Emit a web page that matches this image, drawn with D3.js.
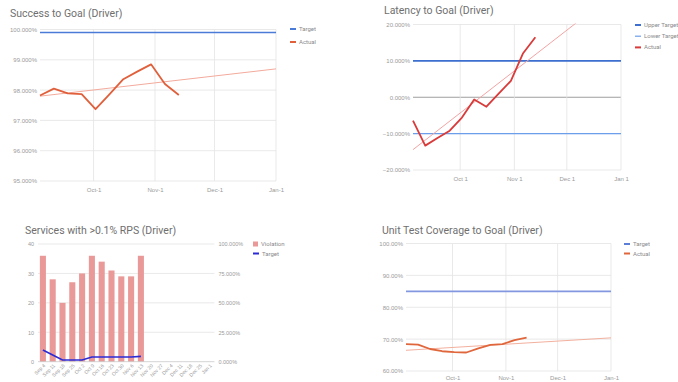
<!DOCTYPE html>
<html><head><meta charset="utf-8">
<script src="https://cdn.jsdelivr.net/npm/d3@7"></script>
<style>
body{margin:0;background:#fff;}
svg{display:block;font-family:Roboto,"Liberation Sans",Arial,sans-serif;}
.title{fill:#6f6f6f;}
.tick-label{fill:#9a9a9a;}
.legend{fill:#8a8a8a;}
</style></head>
<body><svg id="c" width="678" height="382"></svg>
<script>
// ---------- data ----------
const weekDates = ["2017-09-04","2017-09-11","2017-09-18","2017-09-25","2017-10-02","2017-10-09","2017-10-16","2017-10-23","2017-10-30","2017-11-06","2017-11-13"];
const timeDomain = ["2017-09-04","2018-01-01"];
const monthTicks = ["2017-10-01","2017-11-01","2017-12-01","2018-01-01"];

const successActual = [97.82, 98.05, 97.89, 97.87, 97.37, 97.86, 98.36, 98.61, 98.85, 98.2, 97.84];
const successTarget = 99.9;
const successTrend = [97.8, 98.7];
const successTicks = [95, 96, 97, 98, 99, 100];

const latencyActual = [-6.4, -13.3, -11.2, -9.2, -5.6, -0.6, -2.6, 1.0, 4.5, 12.1, 16.5];
const latencyUpper = 10;
const latencyLower = -10;
const latencyTrend = [-14.4, 30];
const latencyTicks = [-20, -10, 0, 10, 20];

const rpsCategories = ["Sep 4","Sep 11","Sep 18","Sep 25","Oct 2","Oct 9","Oct 16","Oct 23","Oct 30","Nov 6","Nov 13","Nov 20","Nov 27","Dec 4","Dec 11","Dec 18","Dec 25","Jan 1"];
const rpsViolation = [36, 28, 20, 27, 30, 36, 34, 31, 29, 29, 36];
const rpsTarget = [10, 5.7, 1.5, 1.5, 1.5, 4, 4, 4, 4, 4, 4.5];
const rpsLeftTicks = [0, 10, 20, 30, 40];
const rpsRightTicks = [0, 25, 50, 75, 100];

const coverageActual = [68.4, 68.3, 66.9, 66.2, 65.9, 65.8, 67.1, 68.2, 68.4, 69.7, 70.5];
const coverageTarget = 85;
const coverageTrend = [66.5, 70.4];
const coverageTicks = [60, 70, 80, 90, 100];

// ---------- helpers ----------
const svg = d3.select("#c");
const parse = d3.timeParse("%Y-%m-%d");
const GRID = "#e3e3e3";

function title(x, y, txt){
  svg.append("text").attr("class","title").attr("x",x).attr("y",y)
     .attr("font-size",10.5).text(txt);
}
function legend(x, y, items){
  items.forEach((it,i)=>{
    const g = svg.append("g").attr("transform",`translate(${x},${y + i*it.dy})`);
    if(it.square){
      g.append("rect").attr("x",0).attr("y",-2.5).attr("width",5).attr("height",5).attr("fill",it.color);
    } else {
      g.append("line").attr("x1",0).attr("x2",6).attr("stroke",it.color).attr("stroke-width",it.w||2);
    }
    g.append("text").attr("class","legend").attr("x",it.square?8:9).attr("y",2)
      .attr("font-size",6).text(it.label);
  });
}

function timeChart(cfg){
  const x = d3.scaleTime().domain(timeDomain.map(parse)).range([cfg.x0, cfg.x1]);
  const y = d3.scaleLinear().domain(cfg.yDomain).range([cfg.y1, cfg.y0]);
  const g = svg.append("g");
  const clipId = "clip"+Math.round(cfg.x0)+"_"+Math.round(cfg.y0);
  g.append("clipPath").attr("id",clipId).append("rect")
    .attr("x",cfg.x0).attr("y",cfg.y0-1).attr("width",cfg.x1-cfg.x0).attr("height",cfg.y1-cfg.y0+2);
  // horizontal grid
  g.selectAll(".hg").data(cfg.yTicks).join("line")
    .attr("x1",cfg.x0).attr("x2",cfg.x1).attr("y1",d=>y(d)).attr("y2",d=>y(d))
    .attr("stroke",d=> (cfg.zeroLine && d===0) ? "#9e9e9e" : GRID).attr("stroke-width",d=>(cfg.zeroLine && d===0)?1.2:0.8);
  // vertical grid
  g.selectAll(".vg").data(monthTicks.map(parse)).join("line")
    .attr("x1",d=>x(d)).attr("x2",d=>x(d)).attr("y1",cfg.y0).attr("y2",cfg.y1)
    .attr("stroke",GRID).attr("stroke-width",0.8);
  // axes labels via d3 axis
  const ya = d3.axisLeft(y).tickValues(cfg.yTicks).tickSize(0).tickPadding(3).tickFormat(cfg.yFmt);
  const yg = g.append("g").attr("transform",`translate(${cfg.x0},0)`).call(ya);
  yg.select(".domain").remove();
  yg.selectAll("text").attr("class","tick-label").attr("font-size",6).attr("font-family",null);
  const xa = d3.axisBottom(x).tickValues(monthTicks.map(parse)).tickSize(0).tickPadding(cfg.xPad).tickFormat(cfg.xFmt);
  const xg = g.append("g").attr("transform",`translate(0,${cfg.y1})`).call(xa);
  xg.select(".domain").remove();
  xg.selectAll("text").attr("class","tick-label").attr("font-size",6).attr("font-family",null);
  // horizontal target lines
  (cfg.targets||[]).forEach(t=>{
    g.append("line").attr("x1",cfg.x0).attr("x2",cfg.x1).attr("y1",y(t.v)).attr("y2",y(t.v))
      .attr("stroke",t.color).attr("stroke-width",t.w);
  });
  // trend
  g.append("line").attr("clip-path",`url(#${clipId})`)
    .attr("x1",x(parse(timeDomain[0]))).attr("x2",x(parse(timeDomain[1])))
    .attr("y1",y(cfg.trend[0])).attr("y2",y(cfg.trend[1]))
    .attr("stroke",cfg.trendColor).attr("stroke-width",1);
  // actual
  const line = d3.line().x((d,i)=>x(parse(weekDates[i]))).y(d=>y(d));
  g.append("path").datum(cfg.actual).attr("d",line).attr("fill","none")
    .attr("stroke",cfg.actualColor).attr("stroke-width",1.8).attr("stroke-linejoin","round");
}

// ---------- Chart 1: Success ----------
title(10, 17, "Success to Goal (Driver)");
timeChart({x0:40, x1:276, y0:29.5, y1:181, yDomain:[95,100], yTicks:successTicks,
  yFmt:d=>d3.format(".3f")(d)+"%", xFmt:d3.timeFormat("%b-%-d"), xPad:7,
  targets:[{v:successTarget, color:"#4a7bd6", w:1.6}],
  trend:successTrend, trendColor:"#f3aa9c", actual:successActual, actualColor:"#e0603c"});
legend(290, 29, [{label:"Target", color:"#4a7bd6", dy:13},{label:"Actual", color:"#e0603c", dy:13}]);

// ---------- Chart 2: Latency ----------
title(384, 14, "Latency to Goal (Driver)");
timeChart({x0:413, x1:621, y0:24.5, y1:170, yDomain:[-20,20], yTicks:latencyTicks, zeroLine:true,
  yFmt:d=>d3.format(".3f")(d)+"%", xFmt:d3.timeFormat("%b %-d"), xPad:7,
  targets:[{v:latencyUpper, color:"#3d6fd0", w:1.8},{v:latencyLower, color:"#6d9eeb", w:1.1}],
  trend:latencyTrend, trendColor:"#f4a3a3", actual:latencyActual, actualColor:"#d93a3a"});
legend(635, 25, [{label:"Upper Target", color:"#3d6fd0", dy:11.2},{label:"Lower Target", color:"#6d9eeb", dy:11.2, w:1.2},{label:"Actual", color:"#d93a3a", dy:11.2}]);

// ---------- Chart 3: Services RPS ----------
title(25, 234, "Services with >0.1% RPS (Driver)");
(function(){
  const x0=38, x1=214.4, y0=244, y1=361.7;
  const x = d3.scaleBand().domain(rpsCategories).range([x0,x1]).paddingInner(0.38).paddingOuter(0.19);
  const yL = d3.scaleLinear().domain([0,40]).range([y1,y0]);
  const yR = d3.scaleLinear().domain([0,100]).range([y1,y0]);
  const g = svg.append("g");
  g.selectAll(".hg").data(rpsLeftTicks.filter(d=>d>0)).join("line")
    .attr("x1",x0).attr("x2",x1).attr("y1",d=>yL(d)).attr("y2",d=>yL(d))
    .attr("stroke",GRID).attr("stroke-width",0.8);
  const la = d3.axisLeft(yL).tickValues(rpsLeftTicks).tickSize(0).tickPadding(4);
  const lg = g.append("g").attr("transform",`translate(${x0},0)`).call(la);
  lg.select(".domain").remove();
  lg.selectAll("text").attr("class","tick-label").attr("font-size",5.5).attr("font-family",null);
  const ra = d3.axisRight(yR).tickValues(rpsRightTicks).tickSize(0).tickPadding(4).tickFormat(d=>d3.format(".3f")(d)+"%");
  const rg = g.append("g").attr("transform",`translate(${x1},0)`).call(ra);
  rg.select(".domain").remove();
  rg.selectAll("text").attr("class","tick-label").attr("font-size",5.5).attr("font-family",null);
  g.selectAll(".bar").data(rpsViolation).join("rect")
    .attr("x",(d,i)=>x(rpsCategories[i])).attr("width",x.bandwidth())
    .attr("y",d=>yL(d)).attr("height",d=>y1-yL(d)).attr("fill","#ea9999");
  g.append("line").attr("x1",x0).attr("x2",x1).attr("y1",y1).attr("y2",y1).attr("stroke","#c8c8c8").attr("stroke-width",0.8);
  const line = d3.line().x((d,i)=>x(rpsCategories[i])+x.bandwidth()/2).y(d=>yR(d));
  g.append("path").datum(rpsTarget).attr("d",line).attr("fill","none")
    .attr("stroke","#2b2bd6").attr("stroke-width",1.6);
  const xa = d3.axisBottom(x).tickSize(0).tickPadding(3);
  const xg = g.append("g").attr("transform",`translate(0,${y1})`).call(xa);
  xg.select(".domain").remove();
  xg.selectAll("text").attr("class","tick-label").attr("font-size",5).attr("font-family",null)
    .attr("text-anchor","end").attr("transform","rotate(-45)").attr("dx","-0.2em").attr("dy","0.4em");
  legend(253, 244, [{label:"Violation", color:"#ea9999", dy:9.5, square:true},{label:"Target", color:"#2b2bd6", dy:9.5}]);
})();

// ---------- Chart 4: Coverage ----------
title(382, 234, "Unit Test Coverage to Goal (Driver)");
timeChart({x0:406, x1:611, y0:243.5, y1:371, yDomain:[60,100], yTicks:coverageTicks,
  yFmt:d=>d3.format(".2f")(d)+"%", xFmt:d3.timeFormat("%b-%-d"), xPad:5,
  targets:[{v:coverageTarget, color:"#8297e0", w:1.8}],
  trend:coverageTrend, trendColor:"#f3b09e", actual:coverageActual, actualColor:"#e0663c"});
legend(624, 244, [{label:"Target", color:"#5b7fd8", dy:9.5},{label:"Actual", color:"#e0663c", dy:9.5}]);
</script></body></html>
